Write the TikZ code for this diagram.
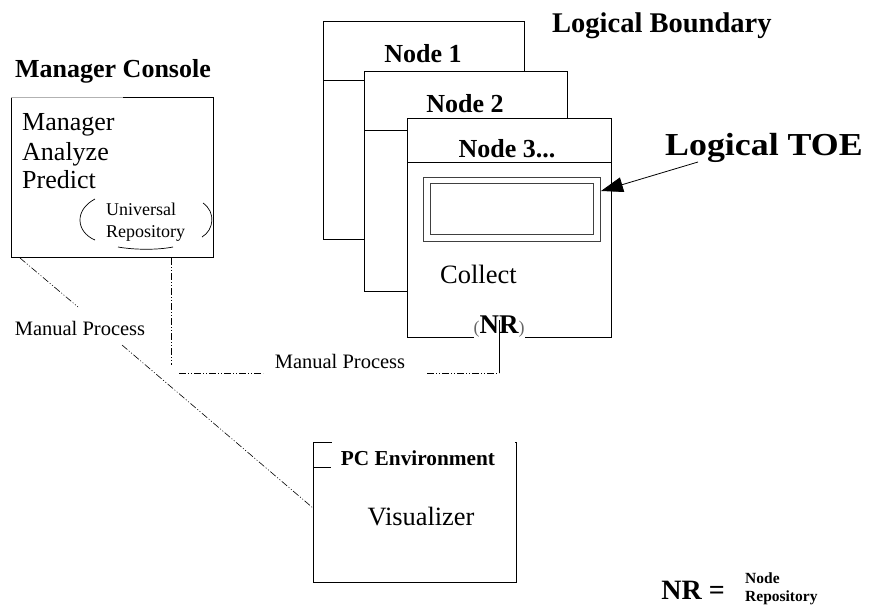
\documentclass[tikz,border=0pt]{standalone}
\usepackage{fontspec}
\setmainfont{Liberation Serif}
\usetikzlibrary{arrows.meta}
\newcommand{\fs}[1]{\fontsize{#1}{#1}\selectfont}
\begin{document}
\begin{tikzpicture}[x=1pt,y=-1pt,
  box/.style={draw, line width=0.9pt, fill=white, inner sep=0pt, anchor=north west},
  dd/.style={line width=0.6pt, dash pattern=on 7pt off 2pt on 1pt off 2pt on 1pt off 2pt},
  txt/.style={inner sep=0pt, anchor=base west},
  ctxt/.style={inner sep=0pt, anchor=base},
  ln/.style={line width=0.9pt}
]
\useasboundingbox (0,0) rectangle (872,614);

% Manager console
\node[ctxt, font=\fs{26}\bfseries] (mgrt) at (113,77) {Manager Console};
\node[box, minimum width=202, minimum height=160] (mgr) at (11,97) {};
\draw[white!70!black, line width=0.9pt] (11,97) -- (123,97);
\node[txt, font=\fs{26}] (t1) at (22,130) {Manager};
\node[txt, font=\fs{26}] (t2) at (22,160) {Analyze};
\node[txt, font=\fs{26}] (t3) at (22,188) {Predict};
\node[txt, font=\fs{18}] (u1) at (106,215) {Universal};
\node[txt, font=\fs{18}] (u2) at (106,237) {Repository};
\draw[line width=0.7pt] (95,199) .. controls (74,210) and (76,232) .. (95,240);
\draw[line width=0.7pt] (203,203) .. controls (216,212) and (214,230) .. (202,237);
\draw[line width=0.7pt] (118,247) .. controls (135,250) and (158,250) .. (173,247);

% Logical boundary nodes
\node[txt, font=\fs{28.5}\bfseries] (lb) at (552,32) {Logical Boundary};

\node[box, minimum width=201, minimum height=218] (n1) at (323,21) {};
\draw[ln] (323,80) -- (524,80);
\node[ctxt, font=\fs{26}\bfseries] (n1t) at (423,62) {Node 1};

\node[box, minimum width=203, minimum height=220] (n2) at (364,71) {};
\draw[ln] (364,130) -- (567,130);
\node[ctxt, font=\fs{26}\bfseries] (n2t) at (465,112) {Node 2};

\node[box, minimum width=204, minimum height=219] (n3) at (407,118) {};
\draw[ln] (407,162) -- (611,162);
\node[ctxt, font=\fs{26}\bfseries] (n3t) at (507,157) {Node 3...};

\node[box, draw=black!75, minimum width=177, minimum height=64] (toe) at (423,177) {};
\draw[black!75, line width=0.9pt] (430,183) rectangle (593,234);
\node[txt, font=\fs{26.5}] (col) at (440,283) {Collect};
\node[ctxt, fill=white, inner xsep=0pt, inner ysep=3pt] (nr) at (499,333)
  {{\fs{18}\color{black!60}(}{\fs{27}\bfseries NR}{\fs{18}\color{black!60})}};

% Logical TOE label and arrow
\node[txt] (ltoe) at (665,155) {\scalebox{1.12}[1]{\fs{32}\bfseries Logical TOE}};
\coordinate (ltoeS) at (698,162);
\coordinate (toeIn) at (601,191);
\draw[line width=0.8pt, -{Triangle[length=22pt,width=15pt]}] (ltoeS) -- (toeIn);

% PC environment
\node[box, minimum width=203, minimum height=140] (pc) at (313,442) {};
\draw[ln] (313,467) -- (331,467);
\fill[white] (331.5,437) rectangle (514.5,469);
\node[ctxt, font=\fs{21.3}\bfseries] (pct) at (418,465) {PC Environment};
\node[ctxt, font=\fs{26.4}] (vis) at (421,525) {Visualizer};

% Manual process connectors
\coordinate (m1) at (20,258);
\coordinate (m1a) at (78,307);
\coordinate (m1b) at (122,345);
\coordinate (pcIn) at (313,508);
\draw[dd] (m1) -- (m1a);
\node[ctxt, font=\fs{20.5}] (mp1) at (80,335) {Manual Process};
\draw[dd] (m1b) -- (pcIn);

\coordinate (m2) at (171,258);
\coordinate (m2a) at (171,365);
\coordinate (h1) at (179,373);
\coordinate (h2) at (263,373);
\coordinate (h3) at (427,373);
\coordinate (h4) at (499,373);
\coordinate (nrIn) at (499,320);
\draw[dd] (m2) -- (m2a);
\draw[dd] (h1) -- (h2);
\node[ctxt, font=\fs{20.5}] (mp2) at (340,368) {Manual Process};
\draw[dd] (h3) -- (h4);
\draw[line width=0.8pt] (h4) -- (nrIn);

% Legend
\node[inner sep=0pt, anchor=base east, font=\fs{28}\bfseries] (leg) at (725,599) {NR =};
\node[txt, font=\fs{15.5}\bfseries] (leg1) at (745,583) {Node};
\node[txt, font=\fs{15.5}\bfseries] (leg2) at (745,601) {Repository};
\end{tikzpicture}
\end{document}
